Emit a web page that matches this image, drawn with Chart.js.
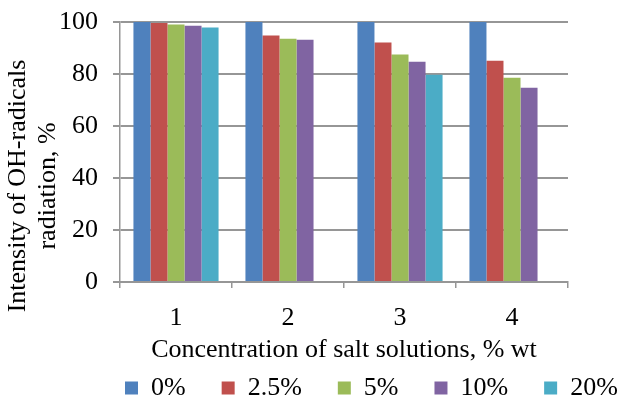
<!DOCTYPE html>
<html>
<head>
<meta charset="utf-8">
<script src="https://cdn.jsdelivr.net/npm/chart.js@4.4.1/dist/chart.umd.min.js"></script>
<style>
  html, body { margin: 0; padding: 0; background: #ffffff; }
  #wrap { width: 622px; height: 397px; }
</style>
</head>
<body>
<div id="wrap"><canvas id="chart" width="622" height="397"></canvas></div>
<script>
// categories (x axis)
const categories = ["1", "2", "3", "4"];

// series
const seriesNames = ["0%", "2.5%", "5%", "10%", "20%"];
const s0 = [100, 100, 100, 100];
const s25 = [99.6, 94.8, 92.1, 85.1];
const s5 = [99.0, 93.6, 87.5, 78.6];
const s10 = [98.6, 93.2, 84.7, 74.7];
const s20 = [97.9, null, 79.7, null];

const colors = ["#4F81BD", "#C0504D", "#9BBB59", "#8064A2", "#4BACC6"];

const yTitleLines = ["Intensity of OH-radicals", "radiation, %"];
const xTitle = "Concentration of salt solutions, % wt";

const font = "'Liberation Serif', 'Times New Roman', serif";
const gridGray = "#969696";
const legendGap = 36;

// y axis title, drawn a bit lower than the scale centre like the original
const yTitlePlugin = {
    id: "yTitle",
    afterDraw(chart) {
        const ctx = chart.ctx;
        ctx.save();
        ctx.font = "26px " + font;
        ctx.fillStyle = "#000000";
        ctx.textAlign = "center";
        ctx.textBaseline = "middle";
        const xs = [18, 48];
        yTitleLines.forEach((line, i) => {
            ctx.save();
            ctx.translate(xs[i], 186);
            ctx.rotate(-Math.PI / 2);
            ctx.fillText(line, 0, 0);
            ctx.restore();
        });
        ctx.restore();
    }
};

// move the legend row to where the original has it
// (right edge pushed past the canvas so the last item stays on the row)
const legendPlace = {
    id: "legendPlace",
    afterLayout(chart) {
        const lg = chart.legend;
        lg.top = 375 - legendGap;
        lg.bottom = 397;
        lg.height = lg.bottom - lg.top;
        lg.left = 125 - legendGap;
        lg.right = 720;
        lg.width = lg.right - lg.left;
    }
};

const datasets = [s0, s25, s5, s10, s20].map((vals, i) => ({
    label: seriesNames[i],
    data: vals,
    backgroundColor: colors[i],
    borderWidth: 0,
    categoryPercentage: 0.76,
    barPercentage: 1.0
}));

new Chart(document.getElementById("chart").getContext("2d"), {
    type: "bar",
    data: { labels: categories, datasets: datasets },
    plugins: [yTitlePlugin, legendPlace],
    options: {
        responsive: false,
        animation: false,
        layout: { padding: { top: 22, right: 0, left: 0, bottom: 0 } },
        plugins: {
            legend: {
                position: "bottom",
                align: "start",
                maxHeight: 30,
                labels: {
                    color: "#000000",
                    font: { family: font, size: 26 },
                    boxWidth: 13,
                    boxHeight: 13,
                    padding: legendGap
                }
            },
            tooltip: { enabled: false }
        },
        scales: {
            x: {
                offset: true,
                afterFit: s => { s.height = 85; },
                grid: {
                    offset: true,
                    drawOnChartArea: false,
                    drawTicks: true,
                    tickLength: 6,
                    color: gridGray,
                    lineWidth: 1.5
                },
                border: { color: gridGray, width: 2 },
                ticks: {
                    color: "#000000",
                    font: { family: font, size: 26 },
                    padding: 15,
                    maxRotation: 0
                },
                title: {
                    display: true,
                    text: xTitle,
                    color: "#000000",
                    font: { family: font, size: 26 },
                    padding: { top: 0, bottom: 1 }
                }
            },
            y: {
                min: 0,
                max: 100,
                afterFit: s => {
                    s.width = 120;
                    s.paddingTop = 0;
                    s.paddingBottom = 0;
                },
                grid: {
                    color: gridGray,
                    lineWidth: 2,
                    drawTicks: true,
                    tickLength: 7
                },
                border: { color: gridGray, width: 1.5 },
                ticks: {
                    stepSize: 20,
                    color: "#000000",
                    font: { family: font, size: 26 },
                    padding: 15
                }
            },
            // empty strip on the right, keeps the plot area narrower
            yRight: {
                position: "right",
                display: true,
                min: 0,
                max: 100,
                afterFit: s => {
                    s.width = 54;
                    s.paddingTop = 0;
                    s.paddingBottom = 0;
                },
                grid: { display: false },
                border: { display: false },
                ticks: { display: false }
            }
        }
    }
});
</script>
</body>
</html>
